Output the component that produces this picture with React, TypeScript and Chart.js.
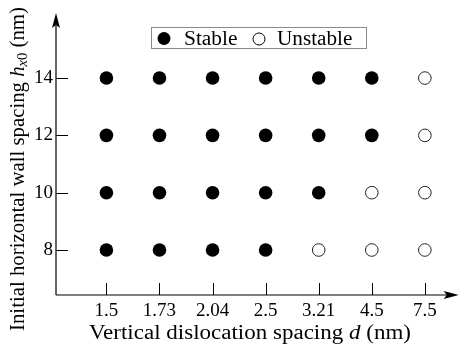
import React, { useEffect, useRef } from "react";
import { Chart, registerables } from "chart.js";
Chart.register(...registerables);

// Categories on the horizontal axis (vertical dislocation spacing d, nm)
const categories = ["1.5", "1.73", "2.04", "2.5", "3.21", "4.5", "7.5"];
// Tick values on the vertical axis (initial horizontal wall spacing, nm)
const yTickValues = [8, 10, 12, 14];

// Stable configurations: [d category, h_x0]
const stablePoints: [string, number][] = [
  ["1.5", 14], ["1.73", 14], ["2.04", 14], ["2.5", 14], ["3.21", 14], ["4.5", 14],
  ["1.5", 12], ["1.73", 12], ["2.04", 12], ["2.5", 12], ["3.21", 12], ["4.5", 12],
  ["1.5", 10], ["1.73", 10], ["2.04", 10], ["2.5", 10], ["3.21", 10],
  ["1.5", 8], ["1.73", 8], ["2.04", 8], ["2.5", 8],
];
// Unstable configurations: [d category, h_x0]
const unstablePoints: [string, number][] = [
  ["7.5", 14],
  ["7.5", 12],
  ["4.5", 10], ["7.5", 10],
  ["3.21", 8], ["4.5", 8], ["7.5", 8],
];

const FONT = "'Liberation Serif', 'DejaVu Serif', serif";

const toXY = (pts: [string, number][]) =>
  pts.map(([d, h]) => ({ x: categories.indexOf(d), y: h }));

function drawSegments(
  ctx: CanvasRenderingContext2D,
  segs: { t: string; f: string; dy?: number }[],
  x: number,
  y: number,
  align: "center" | "left",
  sx = 1
) {
  let total = 0;
  for (const s of segs) {
    ctx.font = s.f;
    total += ctx.measureText(s.t).width;
  }
  ctx.save();
  ctx.translate(x, y);
  ctx.scale(sx, 1);
  let cx = align === "center" ? -total / 2 : 0;
  ctx.textAlign = "left";
  ctx.textBaseline = "alphabetic";
  for (const s of segs) {
    ctx.font = s.f;
    ctx.fillText(s.t, cx, s.dy || 0);
    cx += ctx.measureText(s.t).width;
  }
  ctx.restore();
}

const decorPlugin = {
  id: "decor",
  afterDraw(chart: any) {
    const ctx: CanvasRenderingContext2D = chart.ctx;
    const xs = chart.scales.x;
    const ys = chart.scales.y;
    const left = chart.chartArea.left;
    const bottom = chart.chartArea.bottom;
    const top = chart.chartArea.top;
    const right = chart.chartArea.right;
    ctx.save();
    ctx.strokeStyle = "#000";
    ctx.fillStyle = "#000";
    ctx.lineWidth = 1.2;
    // axes
    ctx.beginPath();
    ctx.moveTo(left, bottom);
    ctx.lineTo(left, top + 6);
    ctx.moveTo(left, bottom);
    ctx.lineTo(right - 6, bottom);
    ctx.stroke();
    // arrows
    ctx.beginPath();
    ctx.moveTo(left, top - 2);
    ctx.lineTo(left - 4, top + 13);
    ctx.lineTo(left, top + 10);
    ctx.lineTo(left + 4, top + 13);
    ctx.closePath();
    ctx.fill();
    ctx.beginPath();
    ctx.moveTo(right + 2, bottom);
    ctx.lineTo(right - 13, bottom - 4);
    ctx.lineTo(right - 10, bottom);
    ctx.lineTo(right - 13, bottom + 4);
    ctx.closePath();
    ctx.fill();
    // tick marks (inward)
    ctx.lineWidth = 1;
    ctx.beginPath();
    categories.forEach((_, i) => {
      const px = Math.round(xs.getPixelForValue(i)) + 0.5;
      ctx.moveTo(px, bottom);
      ctx.lineTo(px, bottom - 12);
    });
    yTickValues.forEach((v) => {
      const py = Math.round(ys.getPixelForValue(v)) + 0.5;
      ctx.moveTo(left, py);
      ctx.lineTo(left + 12, py);
    });
    ctx.stroke();

    // x title
    drawSegments(
      ctx,
      [
        { t: "Vertical dislocation spacing ", f: `20px ${FONT}` },
        { t: "d", f: `italic 20px ${FONT}` },
        { t: " (nm)", f: `20px ${FONT}` },
      ],
      250,
      339,
      "center",
      1.15
    );
    // y title
    ctx.save();
    ctx.translate(24, 169);
    ctx.rotate(-Math.PI / 2);
    drawSegments(
      ctx,
      [
        { t: "Initial horizontal wall spacing ", f: `20px ${FONT}` },
        { t: "h", f: `italic 20px ${FONT}` },
        { t: "x", f: `italic 14px ${FONT}`, dy: 3 },
        { t: "0", f: `14px ${FONT}`, dy: 3 },
        { t: " (nm)", f: `20px ${FONT}` },
      ],
      0,
      0,
      "center",
      1.04
    );
    ctx.restore();

    // legend
    ctx.strokeStyle = "#8a8a8a";
    ctx.lineWidth = 1;
    ctx.strokeRect(151.5, 27.5, 215, 21);
    ctx.fillStyle = "#000";
    ctx.beginPath();
    ctx.arc(164, 38.5, 6.5, 0, Math.PI * 2);
    ctx.fill();
    ctx.strokeStyle = "#000";
    ctx.beginPath();
    ctx.arc(259, 39, 6, 0, Math.PI * 2);
    ctx.stroke();
    drawSegments(ctx, [{ t: "Stable", f: `20px ${FONT}` }], 184, 45, "left", 1.07);
    drawSegments(ctx, [{ t: "Unstable", f: `20px ${FONT}` }], 277, 45, "left", 1.06);
    ctx.restore();
  },
};

export default function App() {
  const ref = useRef<HTMLCanvasElement | null>(null);
  useEffect(() => {
    if (!ref.current) return;
    const chart = new Chart(ref.current, {
      type: "scatter",
      data: {
        datasets: [
          {
            label: "Stable",
            data: toXY(stablePoints),
            pointRadius: 6.8,
            pointBackgroundColor: "#000",
            pointBorderColor: "#000",
            pointBorderWidth: 0,
          },
          {
            label: "Unstable",
            data: toXY(unstablePoints),
            pointRadius: 6.3,
            pointBackgroundColor: "#fff",
            pointBorderColor: "#222",
            pointBorderWidth: 1,
          },
        ],
      },
      options: {
        animation: false,
        responsive: false,
        layout: { padding: { top: 15, right: 4, left: 0, bottom: 0 } },
        plugins: { legend: { display: false }, tooltip: { enabled: false } },
        scales: {
          x: {
            type: "linear",
            min: -0.95,
            max: 6.6,
            grid: { display: false, drawTicks: false },
            border: { display: false },
            afterBuildTicks: (s: any) => {
              s.ticks = categories.map((_, i) => ({ value: i }));
            },
            afterFit: (s: any) => {
              s.height = 49;
            },
            ticks: {
              color: "#000",
              font: { family: FONT, size: 19 },
              padding: 5,
              maxRotation: 0,
              autoSkip: false,
              callback: (v: any) => categories[v as number] ?? "",
            },
          },
          y: {
            type: "linear",
            min: 6.43,
            max: 16.2,
            grid: { display: false, drawTicks: false },
            border: { display: false },
            afterBuildTicks: (s: any) => {
              s.ticks = yTickValues.map((v) => ({ value: v }));
            },
            afterFit: (s: any) => {
              s.width = 56;
            },
            ticks: {
              color: "#000",
              font: { family: FONT, size: 19 },
              padding: 3,
              autoSkip: false,
            },
          },
        },
      },
      plugins: [decorPlugin],
    });
    return () => chart.destroy();
  }, []);
  return (
    <div style={{ position: "fixed", left: 0, top: 0, width: 464, height: 344, background: "#fff" }}>
      <canvas ref={ref} width={464} height={344} />
    </div>
  );
}
